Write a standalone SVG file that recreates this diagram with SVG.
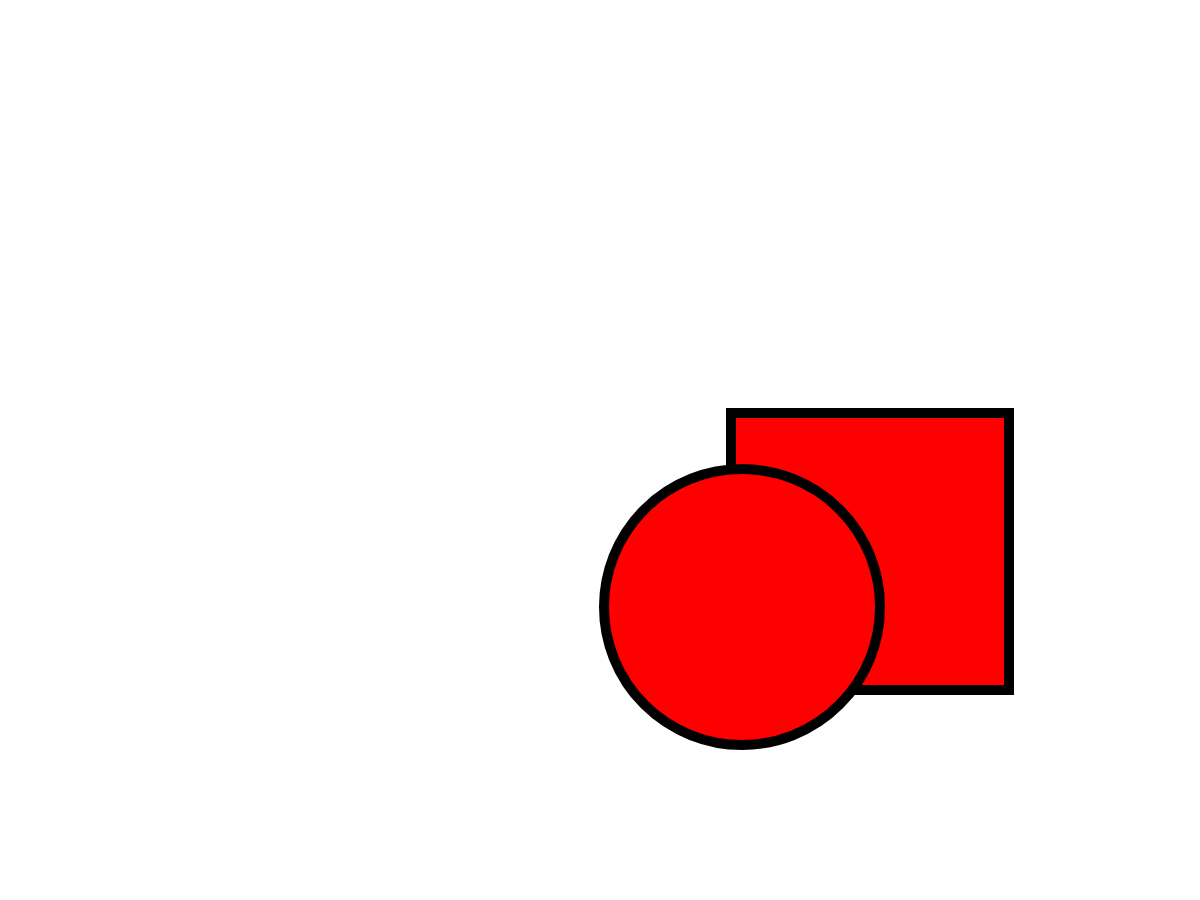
<svg xmlns="http://www.w3.org/2000/svg" width="1200" height="900" viewBox="0 0 1200 900">
<style>.shape{fill:#ff0000;stroke:#000000;stroke-width:10}</style>
<rect width="1200" height="900" fill="#ffffff"/>
<g id="square"><rect class="shape" x="731" y="413" width="278" height="277"/></g>
<g id="circle"><circle class="shape" cx="742" cy="607" r="138"/></g>
</svg>
